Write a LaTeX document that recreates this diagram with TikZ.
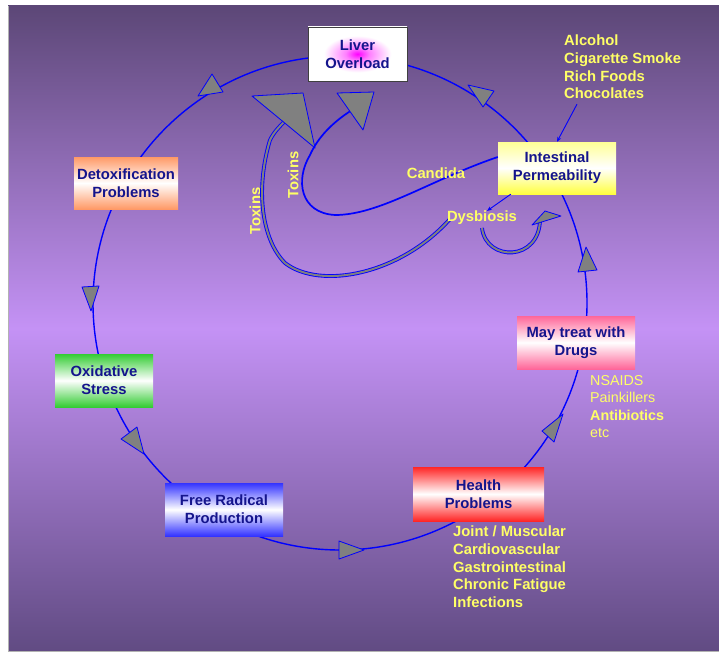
\documentclass[tikz,border=0pt]{standalone}
\usepackage{fontspec}
\setmainfont{Liberation Sans}
\usetikzlibrary{arrows.meta}
\definecolor{navytext}{HTML}{14148C}
\definecolor{listyellow}{HTML}{FFFF66}
\definecolor{bgdark}{HTML}{5C4777}
\definecolor{bglight}{HTML}{C492F5}
\definecolor{bgbottom}{HTML}{614B83}
\definecolor{loopblue}{HTML}{0000FF}
\definecolor{detoxorange}{HTML}{FF9966}
\definecolor{drugpink}{HTML}{FF6699}
\definecolor{healthred}{HTML}{FF2626}
\definecolor{oxgreen}{HTML}{33CC33}
\definecolor{radblue}{HTML}{3333FF}
\definecolor{gutyellow}{HTML}{FFFF40}
\pgfdeclareradialshading{liverglow}{\pgfpoint{0bp}{0bp}}{color(0bp)=(magenta); color(6bp)=(magenta!50!white); color(17bp)=(white); color(50bp)=(white)}
\tikzset{
  stage/.style={rectangle, minimum height=53pt, inner sep=0pt, align=center,
    font=\fontsize{14.8}{18}\selectfont\bfseries, text=navytext},
  band/.style={top color=#1, bottom color=#1, middle color=white},
  cycleline/.style={draw=loopblue, line width=1.4pt},
  tri/.style={fill=gray, draw=loopblue, line width=0.8pt, line join=round},
  route/.style={draw=loopblue, line width=1.7pt},
  shaft/.style={draw=loopblue, line width=0.9pt, double=gray, double distance=2pt},
  pointer/.style={draw=loopblue, line width=0.9pt, -{Stealth[length=5pt,width=4pt]}},
  tag/.style={inner sep=0pt, text=listyellow, font=\fontsize{14.8}{18}\selectfont\bfseries},
  listtext/.style={inner sep=0pt, align=left, text=listyellow, font=\fontsize{14.8}{17.8}\selectfont\bfseries}
}
\begin{document}
\begin{tikzpicture}[x=1pt,y=-1pt]
  \useasboundingbox (0,0) rectangle (719,666);
  \fill[white] (0,0) rectangle (719,666);
  \shade[top color=bgdark, bottom color=bgbottom, middle color=bglight] (8,6) rectangle (719,651);
  \draw[gray!60, line width=0.6pt] (8,6) -- (8,651) -- (719,651);

  % the cycle
  \coordinate (hub) at (340,303);
  \draw[cycleline] (hub) circle[radius=247pt];
  \filldraw[tri] (212,74) -- (223,92) -- (198,96) -- cycle;
  \filldraw[tri] (468,85) -- (494,91) -- (483,107) -- cycle;
  \filldraw[tri] (578,272) -- (597,270) -- (586,247) -- cycle;
  \filldraw[tri] (542,431) -- (563,414) -- (554,442) -- cycle;
  \filldraw[tri] (339,541) -- (364,550) -- (339,559) -- cycle;
  \filldraw[tri] (137,427) -- (121,439) -- (144,454) -- cycle;
  \filldraw[tri] (82,287) -- (99,286) -- (91,311) -- cycle;

  \node[stage, minimum width=99pt, minimum height=54pt, shading=liverglow, draw=black!75, line width=0.8pt] (liver) at (357.5,54) {Liver\\Overload};
  \node[stage, minimum width=118pt, minimum height=52pt, top color=gutyellow!55, bottom color=gutyellow, middle color=white] (intest) at (557,168) {Intestinal\\Permeability};
  \node[stage, minimum width=104pt, minimum height=52pt, band=detoxorange] (detox) at (126,183) {Detoxification\\Problems};
  \node[stage, minimum width=118pt, band=drugpink] (drugs) at (576,342.5) {May treat with\\Drugs};
  \node[stage, minimum width=98pt, band=oxgreen] (oxid) at (104,380.5) {Oxidative\\Stress};
  \node[stage, minimum width=118pt, band=radblue] (freerad) at (224,509.5) {Free Radical\\Production};
  \node[stage, minimum width=131pt, minimum height=54pt, band=healthred] (health) at (478.5,494) {Health\\Problems};

  % labels
  \node[listtext, anchor=north west] (foods) at (564,34.5) {Alcohol\\Cigarette Smoke\\Rich Foods\\Chocolates};
  \node[listtext, anchor=north west, font=\fontsize{14.3}{17.6}\selectfont] (meds) at (590,375) {NSAIDS\\Painkillers\\\textbf{Antibiotics}\\etc};
  \node[listtext, anchor=north west] (ills) at (453,525.5) {Joint / Muscular\\Cardiovascular\\Gastrointestinal\\Chronic Fatigue\\Infections};
  \node[tag, rotate=90] (toxin) at (293,175) {Toxins};
  \node[tag, rotate=90] (toxout) at (255,211) {Toxins};
  \coordinate (candida) at (436,173);
  \coordinate (dysb) at (482,218);

  % toxin routes to the liver
  \draw[route] ([yshift=11pt]intest.west) .. controls (430,180) and (380,215) .. (335,215)
    .. controls (300,213) and (295,180) .. (310,155) .. controls (318,137) and (333,122) .. (352,110);
  \filldraw[tri] (337,93) -- (374,92) -- (363,130) -- cycle;
  \draw[shaft] (450,219) .. controls (400,275) and (320,290) .. (285,263)
    .. controls (262,240) and (255,190) .. (270,140) .. controls (274,132) and (279,127) .. (284,122);
  \filldraw[tri] (252,96) -- (303,93) -- (315,148) -- cycle;
  \draw[shaft] (482,228) .. controls (486,262) and (540,262) .. (540,219);
  \filldraw[tri] (532,225) -- (545,211) -- (561,216) -- cycle;
  \node[tag] (dysbtext) at (dysb) {Dysbiosis};
  \node[tag] (candidatext) at (candida) {Candida};

  \draw[pointer] ([xshift=13pt]intest.south west) -- ([xshift=5pt]dysbtext.north);
  \draw[pointer] ([xshift=13pt,yshift=-5pt]foods.south west) -- (intest.north);
\end{tikzpicture}
\end{document}
